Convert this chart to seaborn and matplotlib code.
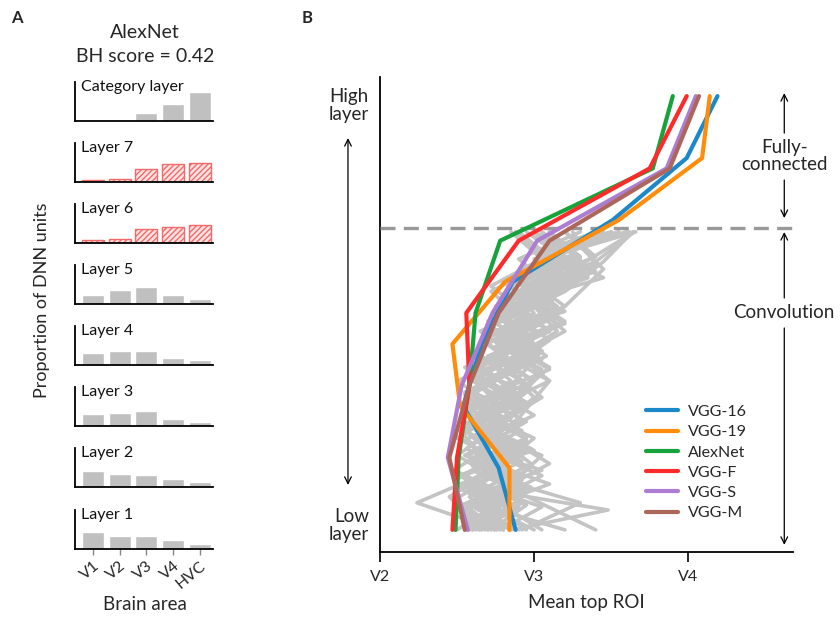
import numpy as np
import pandas as pd
import matplotlib
matplotlib.use("Agg")
import matplotlib.pyplot as plt
import seaborn as sns

sns.set_theme(style="white")
plt.rcParams['font.family'] = ['Lato', 'DejaVu Sans']

# ---------------- Panel A data ----------------
areas = ["V1", "V2", "V3", "V4", "HVC"]
layer_names = ["Category layer", "Layer 7", "Layer 6", "Layer 5",
               "Layer 4", "Layer 3", "Layer 2", "Layer 1"]
cat_layer = [0.00, 0.00, 0.15, 0.31, 0.53]
layer7 = [0.03, 0.06, 0.24, 0.32, 0.35]
layer6 = [0.05, 0.07, 0.25, 0.30, 0.32]
layer5 = [0.17, 0.25, 0.31, 0.17, 0.10]
layer4 = [0.22, 0.26, 0.26, 0.13, 0.09]
layer3 = [0.22, 0.24, 0.28, 0.13, 0.07]
layer2 = [0.30, 0.24, 0.21, 0.15, 0.10]
layer1 = [0.31, 0.24, 0.24, 0.16, 0.09]
hatched_layers = ["Layer 7", "Layer 6"]

# ---------------- Panel B data ----------------
# mean top ROI (V2=2, V3=3, V4=4) per layer, from low to high layer
net_names = ["VGG-16", "VGG-19", "AlexNet", "VGG-F", "VGG-S", "VGG-M"]
vgg16 = [2.88, 2.77, 2.54, 2.66, 2.86, 3.51, 3.99, 4.19]
vgg19 = [2.84, 2.84, 2.52, 2.47, 2.81, 3.55, 4.09, 4.14]
alexnet = [2.49, 2.51, 2.58, 2.62, 2.78, 3.77, 3.90]
vggf = [2.47, 2.50, 2.58, 2.56, 2.90, 3.75, 3.99]
vggs = [2.57, 2.44, 2.53, 2.73, 3.02, 3.86, 4.05]
vggm = [2.55, 2.45, 2.58, 2.77, 3.10, 3.88, 4.07]
net_colors = ["#1a88c9", "#ff8c0a", "#17a33b", "#fd2b2b", "#ad7dd1", "#ad675a"]

# other networks (convolution layers only), low to high layer
g01 = [2.62, 2.50, 2.85, 2.60, 2.95, 2.70, 2.58, 2.90, 2.75, 3.05, 2.85, 3.30, 3.05, 3.45]
g02 = [2.75, 2.24, 2.65, 2.95, 2.60, 2.80, 2.55, 2.95, 2.78, 3.15, 3.00, 3.62]
g03 = [2.85, 3.48, 2.70, 3.05, 2.65, 2.92, 2.60, 2.85, 2.70, 3.05, 2.80, 3.20, 2.95, 3.40, 3.10, 3.55]
g04 = [3.40, 3.00, 2.60, 2.95, 2.70, 3.10, 2.75, 3.20, 2.90, 3.40, 3.65]
g05 = [2.50, 2.75, 2.48, 2.85, 2.55, 2.75, 2.50, 2.88, 2.65, 3.00, 2.80, 3.15, 3.00]
g06 = [2.70, 2.52, 2.95, 2.60, 2.85, 2.55, 2.90, 2.65, 3.00, 2.75, 3.15, 2.90, 3.35, 3.05, 3.50]
g07 = [2.95, 2.70, 3.05, 2.65, 2.95, 2.60, 2.85, 3.10, 2.85, 3.25, 3.05, 3.60]
g08 = [3.05, 2.70, 3.10, 2.75, 3.00, 2.80, 3.15, 2.95, 3.30, 3.65]
g09 = [2.60, 2.85, 2.55, 2.80, 2.50, 2.75, 2.95, 2.62, 2.90, 2.70, 3.05, 2.85, 3.25, 3.10]
g10 = [2.80, 2.55, 2.90, 2.60, 3.00, 2.65, 2.88, 2.58, 2.80, 3.05, 2.75, 3.10, 2.90, 3.30, 3.05, 3.40]
g11 = [2.55, 2.90, 2.50, 2.85, 2.62, 3.00, 2.75, 3.20, 2.90]
g12 = [3.20, 2.65, 2.92, 2.55, 2.85, 2.62, 3.00, 2.70, 3.10, 2.85, 3.25, 3.05, 3.55]
g13 = [2.68, 2.48, 2.80, 2.55, 2.92, 2.60, 2.85, 2.70, 3.05, 3.30, 3.10]
g14 = [2.90, 2.62, 2.98, 2.66, 2.88, 2.58, 2.95, 2.70, 3.05, 2.80, 3.15, 2.95, 3.35, 3.10, 3.45]
g15 = [2.58, 2.80, 2.52, 2.90, 2.65, 2.55, 2.88, 2.68, 3.00, 2.85, 3.20, 2.95]
g16 = [2.78, 3.05, 2.62, 2.92, 2.68, 3.00, 2.75, 3.10, 2.85, 3.20, 2.95, 3.45, 3.15, 3.60]
g17 = [2.65, 2.45, 2.80, 2.55, 2.90, 2.65, 3.00, 2.80, 3.25, 3.05]
g18 = [2.72, 2.95, 2.60, 2.88, 2.62, 2.95, 2.70, 3.08, 2.85, 3.20, 2.98, 3.40, 3.20]
g19 = [2.88, 2.60, 2.92, 2.56, 2.82, 2.60, 2.90, 2.66, 2.95, 2.72, 3.05, 2.85]
g20 = [2.60, 2.90, 2.48, 2.78, 2.55, 2.85, 2.62, 2.95, 2.72, 3.10, 2.88]
g21 = [3.00, 2.70, 3.10, 2.68, 2.95, 2.62, 2.90, 3.05, 2.78, 3.15, 2.95, 3.35, 3.15, 3.66]
g22 = [2.66, 2.92, 2.55, 2.82, 2.58, 2.90, 2.65, 2.98, 2.75, 3.10, 2.90, 3.30]
g23 = [2.84, 2.58, 2.98, 2.70, 3.05, 2.80, 3.20, 2.95, 3.40, 3.25]
g24 = [2.56, 2.78, 2.50, 2.82, 2.58, 2.88, 2.62, 2.92, 2.68, 3.00, 2.76, 3.10, 2.88, 3.20, 3.00]
g25 = [2.76, 2.55, 2.88, 3.05, 2.65, 2.95, 2.70, 3.02, 2.80, 3.15, 2.92, 3.30, 3.10]
g26 = [2.70, 2.95, 2.58, 2.90, 3.10, 2.80, 3.20, 3.45, 3.20]
g27 = [2.92, 3.30, 2.70, 2.98, 2.62, 2.90, 3.10, 2.80, 3.15, 2.92, 3.30, 3.05]
g28 = [2.64, 2.90, 2.55, 2.82, 3.00, 2.68, 2.55, 2.85, 3.02, 2.75, 3.12, 2.92, 3.28, 3.00]
g29 = [2.80, 2.62, 2.95, 2.70, 2.58, 2.88, 3.05, 2.80, 3.20, 3.45, 3.64]
g30 = [2.74, 2.55, 2.92, 2.66, 2.52, 2.85, 3.00, 2.75, 3.10, 2.90, 3.25, 3.05, 3.50]
gray_nets = [g01, g02, g03, g04, g05, g06, g07, g08, g09, g10, g11, g12, g13, g14, g15,
             g16, g17, g18, g19, g20, g21, g22, g23, g24, g25, g26, g27, g28, g29, g30]

xtick_vals = [2, 3, 4]
xtick_labels = ["V2", "V3", "V4"]
conv_top = 0.687   # relative depth where convolution layers end
fc_boundary = 0.696

# ---------------- Figure ----------------
W, H = 840, 617
fig = plt.figure(figsize=(W / 100, H / 100), dpi=100)


def fx(px):
    return px / W


def fy(py):
    return 1 - py / H


# Panel A
layer_vals = [cat_layer, layer7, layer6, layer5, layer4, layer3, layer2, layer1]
bottoms_px = [121, 182, 243, 304, 365, 426, 487, 549]
ax_h = 39
for name, vals, bpx in zip(layer_names, layer_vals, bottoms_px):
    ax = fig.add_axes([fx(75), fy(bpx), fx(213) - fx(75), ax_h / H])
    df = pd.DataFrame({"area": areas, "prop": vals})
    hatched = name in hatched_layers
    sns.barplot(data=df, x="area", y="prop", ax=ax, width=0.82, saturation=1,
                color="#fbe3e3" if hatched else "#c0c0c0")
    if hatched:
        for p in ax.patches:
            p.set_hatch("//////")
            p.set_edgecolor("#f46a6a")
            p.set_linewidth(1.0)
    ax.set_xlim(-0.67, 4.5)
    ax.set_ylim(0, 0.71)
    ax.set_xlabel("")
    ax.set_ylabel("")
    ax.set_yticks([])
    for s in ["top", "right"]:
        ax.spines[s].set_visible(False)
    for s in ["left", "bottom"]:
        ax.spines[s].set_color("black")
        ax.spines[s].set_linewidth(1.3)
    ax.text(0.045, 1.05, name, transform=ax.transAxes, ha="left", va="top",
            fontsize=11.5, color="#111111")
    if name == "Layer 1":
        ax.set_xticks(range(len(areas)))
        ax.set_xticklabels(areas, rotation=40, ha="right", rotation_mode="anchor",
                           fontsize=11.5)
        ax.tick_params(axis="x", length=4, width=1, color="#888888", pad=3,
                       bottom=True)
    else:
        ax.set_xticks([])

fig.text(fx(145), fy(33), "AlexNet", ha="center", va="center", fontsize=14)
fig.text(fx(145), fy(57), "BH score = 0.42", ha="center", va="center", fontsize=14)
fig.text(fx(42), fy(300), "Proportion of DNN units", rotation=90, ha="center",
         va="center", fontsize=13)
fig.text(fx(145), fy(605), "Brain area", ha="center", va="center", fontsize=13.5)
fig.text(fx(17), fy(18), "A", ha="center", va="center", fontsize=12, weight="bold")
fig.text(fx(307), fy(18), "B", ha="center", va="center", fontsize=12, weight="bold")

# Panel B
axb = fig.add_axes([fx(380), fy(552), fx(793) - fx(380), (552 - 77) / H])

rows = []
for i, g in enumerate(gray_nets):
    ys = np.linspace(0, conv_top, len(g))
    for xv, yv in zip(g, ys):
        rows.append({"net": f"g{i}", "roi": xv, "depth": yv})
gdf = pd.DataFrame(rows)
sns.lineplot(data=gdf, x="roi", y="depth", units="net", estimator=None, sort=False,
             color="#c4c4c4", linewidth=2.6, ax=axb, legend=False)

axb.axhline(fc_boundary, color="#999999", lw=2.4, dashes=(4.5, 2.5), zorder=3)

net_vals = [vgg16, vgg19, alexnet, vggf, vggs, vggm]
crow = []
for n, v in zip(net_names, net_vals):
    ys = np.linspace(0, 1, len(v))
    for xv, yv in zip(v, ys):
        crow.append({"net": n, "roi": xv, "depth": yv})
cdf = pd.DataFrame(crow)
sns.lineplot(data=cdf, x="roi", y="depth", hue="net", hue_order=net_names,
             palette=net_colors, estimator=None, sort=False, units="net",
             linewidth=3, ax=axb, zorder=4)

axb.set_xlim(2, 4.68)
axb.set_ylim(-0.051, 1.044)
axb.set_xticks(xtick_vals)
axb.set_xticklabels(xtick_labels, fontsize=11.5)
axb.set_yticks([])
axb.tick_params(axis="x", length=7, width=1.2, color="black", direction="out",
                bottom=True, pad=6)
axb.set_xlabel("Mean top ROI", fontsize=13.5, labelpad=7)
axb.set_ylabel("")
for s in ["top", "right"]:
    axb.spines[s].set_visible(False)
for s in ["left", "bottom"]:
    axb.spines[s].set_color("black")
    axb.spines[s].set_linewidth(1.3)

leg = axb.legend(loc="upper left", bbox_to_anchor=((632 - 380) / (793 - 380), 0.34),
                 frameon=False, fontsize=11.5, handlelength=2.0, handletextpad=0.6,
                 labelspacing=0.38)
for line in leg.get_lines():
    line.set_linewidth(3)

# left annotations
xt = 2 - 11 / 154
axb.text(xt, 1.0 - 0.022, "High\nlayer", ha="right", va="center", fontsize=13.5,
         linespacing=1.05, clip_on=False)
axb.text(xt, 0.01, "Low\nlayer", ha="right", va="center", fontsize=13.5,
         linespacing=1.05, clip_on=False)
xa = 2 - 32 / 154
axb.annotate("", xy=(xa, (530 - 138) / 434), xytext=(xa, (530 - 485) / 434),
             arrowprops=dict(arrowstyle="<->", color="black", lw=0.9,
                             shrinkA=0, shrinkB=0), annotation_clip=False)

# right annotations
xr = 2 + (784 - 380) / 154
axb.text(xr, (530 - 156) / 434, "Fully-\nconnected", ha="center", va="center",
         fontsize=13.5, linespacing=1.0)
axb.annotate("", xy=(xr, (530 - 93) / 434), xytext=(xr, (530 - 133) / 434),
             arrowprops=dict(arrowstyle="->", color="black", lw=0.9,
                             shrinkA=0, shrinkB=0))
axb.annotate("", xy=(xr, (530 - 218) / 434), xytext=(xr, (530 - 180) / 434),
             arrowprops=dict(arrowstyle="->", color="black", lw=0.9,
                             shrinkA=0, shrinkB=0))
axb.text(xr, (530 - 313) / 434, "Convolution", ha="center", va="center",
         fontsize=13.5, clip_on=False)
axb.annotate("", xy=(xr, (530 - 232) / 434), xytext=(xr, (530 - 298) / 434),
             arrowprops=dict(arrowstyle="->", color="black", lw=0.9,
                             shrinkA=0, shrinkB=0))
axb.annotate("", xy=(xr, (530 - 545) / 434), xytext=(xr, (530 - 328) / 434),
             arrowprops=dict(arrowstyle="->", color="black", lw=0.9,
                             shrinkA=0, shrinkB=0), annotation_clip=False)

fig.savefig("out.png", dpi=100)
